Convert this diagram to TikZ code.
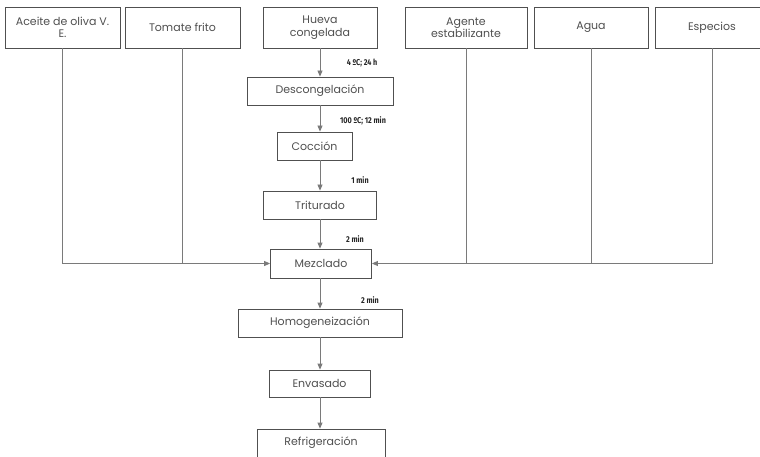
\documentclass[tikz,border=0pt]{standalone}
\usepackage{fontspec}
\setmainfont{Poppins}
\newfontfamily\labfont{Fira Sans}
\usetikzlibrary{arrows.meta}
\definecolor{boxc}{HTML}{505050}
\definecolor{linec}{HTML}{7A7A7A}
\definecolor{txtc}{HTML}{505050}
\begin{document}
\begin{tikzpicture}[x=1pt,y=-1pt,
  box/.style={draw=boxc, line width=0.8pt, fill=white, text=txtc,
    font=\fontsize{11}{12.5}\selectfont, align=center, inner sep=0pt},
  conn/.style={draw=linec, line width=0.8pt},
  arr/.style={conn, -{Triangle[length=6pt,width=5pt]}},
  lab/.style={font=\labfont\bfseries\fontsize{8.5}{9}\selectfont, text=black!85, inner sep=0pt}]
\useasboundingbox (0,0) rectangle (760,457);
% top inputs
\node[box, minimum width=115pt, minimum height=41pt] (aceite) at (62.5,27.5) {Aceite de oliva V.\\E.};
\node[box, minimum width=115pt, minimum height=41pt] (tomate) at (182.5,27.5) {Tomate frito};
\node[box, minimum width=114pt, minimum height=41pt] (hueva) at (320,27.5) {Hueva\\congelada};
\node[box, minimum width=122pt, minimum height=41pt] (agente) at (466,27.5) {Agente\\estabilizante};
\node[box, minimum width=114pt, minimum height=41pt] (agua) at (591,27.5) {Agua};
\node[box, minimum width=114pt, minimum height=41pt] (especios) at (712,27.5) {Especios};
% process
\node[box, minimum width=146pt, minimum height=28pt] (desc) at (320,91) {Descongelación};
\node[box, minimum width=75pt, minimum height=28pt] (coc) at (314.5,146) {Cocción};
\node[box, minimum width=113pt, minimum height=28pt] (trit) at (320,205) {Triturado};
\node[box, minimum width=101pt, minimum height=29pt] (mez) at (321,263.5) {Mezclado};
\node[box, minimum width=164pt, minimum height=28pt] (homo) at (320,323) {Homogeneización};
\node[box, minimum width=101pt, minimum height=27pt] (env) at (319.5,383.5) {Envasado};
\node[box, minimum width=128pt, minimum height=28pt] (refr) at (321,443) {Refrigeración};
% labels
\node[lab] (l1) at (362,63) {\scalebox{0.85}[1]{4 ºC; 24 h}};
\node[lab] (l2) at (363,121) {\scalebox{0.85}[1]{100 ºC; 12 min}};
\node[lab] (l3) at (360,180) {\scalebox{0.85}[1]{1 min}};
\node[lab] (l4) at (355,239) {\scalebox{0.85}[1]{2 min}};
\node[lab] (l5) at (370,300) {\scalebox{0.85}[1]{2 min}};
% vertical arrows
\draw[arr] (hueva.south) -- (hueva.south |- desc.north);
\draw[arr] (desc.south) -- (desc.south |- coc.north);
\draw[arr] (desc.south |- coc.south) -- (desc.south |- trit.north);
\draw[arr] (trit.south) -- (trit.south |- mez.north);
\draw[arr] (trit.south |- mez.south) -- (trit.south |- homo.north);
\draw[arr] (homo.south) -- (homo.south |- env.north);
\draw[arr] (homo.south |- env.south) -- (homo.south |- refr.north);
% side inputs
\draw[arr] (aceite.south) |- (mez.west);
\draw[conn] (tomate.south) -- (tomate.south |- mez.west);
\draw[arr] (especios.south) |- (mez.east);
\draw[conn] (agente.south) -- (agente.south |- mez.east);
\draw[conn] (agua.south) -- (agua.south |- mez.east);
\end{tikzpicture}
\end{document}
